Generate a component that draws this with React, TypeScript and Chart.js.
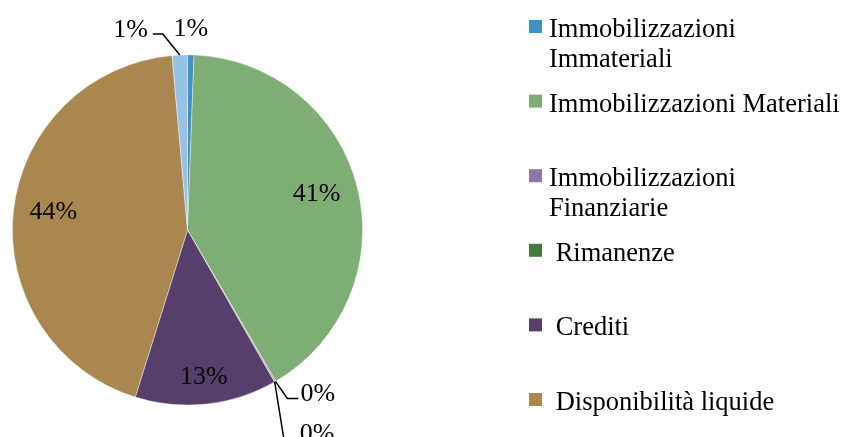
import React, { useEffect, useRef } from "react";
import { Chart, registerables } from "chart.js";

Chart.register(...registerables);

const categories: (string | string[])[] = [
  ["Immobilizzazioni", "Immateriali"],
  "Immobilizzazioni Materiali",
  ["Immobilizzazioni", "Finanziarie"],
  " Rimanenze",
  " Crediti",
  " Disponibilità liquide",
  "Ratei e risconti",
];
const shares = [0.6, 41.0, 0.1, 0.05, 13.1, 43.8, 1.4];
const colors = ["#4191C5", "#7EAE74", "#8C77A7", "#467B3D", "#573F6C", "#A9874F", "#95C3E8"];
const legendCount = 6;

// label placement: inside (radial fraction) or outside (offsets from outer arc point)
const labelLayout: any[] = [
  { mode: "out", text: [0, -26], align: "center" },
  { mode: "in", r: 0.76 },
  { mode: "out", line: [[12, 17], [23, 17]], text: [25, 13], align: "left" },
  { mode: "out", line: [[9, 56], [23, 56]], text: [25, 52], align: "left" },
  { mode: "in", r: 0.86 },
  { mode: "in", r: 0.77 },
  { mode: "out", line: [[-17, -21], [-27, -21]], text: [-32, -25], align: "right" },
];

const FONT = "'Liberation Serif', 'Times New Roman', serif";

const labelsPlugin = {
  id: "sliceLabels",
  afterDatasetsDraw(chart: any) {
    const ctx = chart.ctx;
    const meta = chart.getDatasetMeta(0);
    const data = chart.data.datasets[0].data as number[];
    const total = data.reduce((a, b) => a + b, 0);
    ctx.save();
    ctx.font = `26px ${FONT}`;
    ctx.fillStyle = "#000";
    ctx.strokeStyle = "#000";
    ctx.lineWidth = 1.5;
    ctx.textBaseline = "middle";
    meta.data.forEach((arc: any, i: number) => {
      const lay = labelLayout[i];
      const mid = (arc.startAngle + arc.endAngle) / 2;
      const txt = Math.round((data[i] / total) * 100) + "%";
      if (lay.mode === "in") {
        const r = arc.outerRadius * lay.r;
        ctx.textAlign = "center";
        ctx.fillText(txt, arc.x + Math.cos(mid) * r, arc.y + Math.sin(mid) * r - 3);
      } else {
        const px = arc.x + Math.cos(mid) * arc.outerRadius;
        const py = arc.y + Math.sin(mid) * arc.outerRadius;
        if (lay.line) {
          ctx.beginPath();
          ctx.moveTo(px, py);
          lay.line.forEach((p: number[]) => ctx.lineTo(px + p[0], py + p[1]));
          ctx.stroke();
        }
        ctx.textAlign = lay.align;
        ctx.fillText(txt, px + lay.text[0], py + lay.text[1]);
      }
    });
    ctx.restore();
  },
};

const legendPlugin = {
  id: "customLegend",
  afterDraw(chart: any) {
    const ctx = chart.ctx;
    const left = 529;
    const top = 20;
    const step = 74.6;
    const box = 13;
    const lineH = 30;
    ctx.save();
    ctx.font = `26.5px ${FONT}`;
    ctx.textBaseline = "alphabetic";
    ctx.textAlign = "left";
    for (let i = 0; i < legendCount; i++) {
      const y = top + i * step;
      ctx.fillStyle = colors[i];
      ctx.fillRect(left, y, box, box);
      ctx.fillStyle = "#000";
      const lab = categories[i];
      const lines = Array.isArray(lab) ? lab : [lab];
      lines.forEach((l, j) => ctx.fillText(l, left + 20, y + 17 + j * lineH));
    }
    ctx.restore();
  },
};

export default function App() {
  const ref = useRef<HTMLCanvasElement>(null);
  useEffect(() => {
    document.body.style.margin = "0";
    const chart = new Chart(ref.current!, {
      type: "pie",
      data: {
        labels: categories as any,
        datasets: [
          {
            data: shares,
            backgroundColor: colors,
            borderColor: "rgba(255,255,255,0.5)",
            borderWidth: 0.8,
          },
        ],
      },
      options: {
        responsive: false,
        animation: false,
        layout: { padding: { left: 12, top: 54.5, right: 481, bottom: 31.5 } },
        plugins: { legend: { display: false }, tooltip: { enabled: false } },
      },
      plugins: [labelsPlugin, legendPlugin],
    });
    return () => chart.destroy();
  }, []);
  return <canvas ref={ref} width={844} height={437} style={{ display: "block", width: 844, height: 437 }} />;
}
